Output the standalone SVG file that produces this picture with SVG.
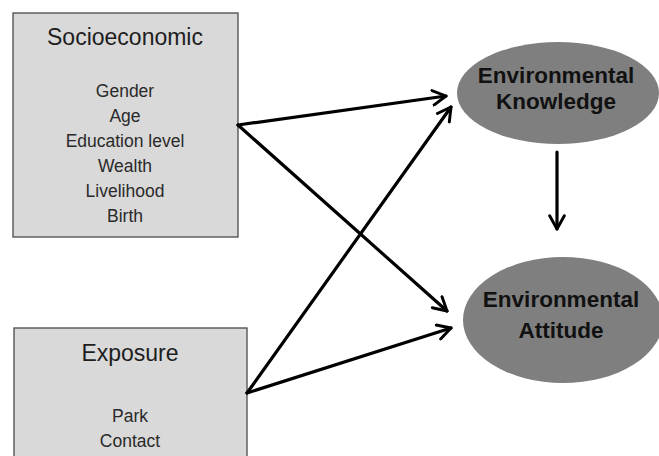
<svg xmlns="http://www.w3.org/2000/svg" width="659" height="456" viewBox="0 0 659 456">
<defs>
<style>
.box{fill:#d9d9d9;stroke:#4a4a4a;stroke-width:1.3}
.ell{fill:#7f7f7f;stroke:none}
.title{font-family:"Liberation Sans",Arial,sans-serif;font-size:23px;fill:#1e1e1e;text-anchor:middle}
.item{font-family:"Liberation Sans",Arial,sans-serif;font-size:17.5px;fill:#2a2a2a;text-anchor:middle}
.etxt{font-family:"Liberation Sans",Arial,sans-serif;font-size:22.5px;font-weight:bold;fill:#111;text-anchor:middle}
.conn{stroke:#000;stroke-width:3.2;fill:none;stroke-linecap:round}
</style>
<marker id="arr" viewBox="0 0 12 12" refX="10" refY="6" markerWidth="5.5" markerHeight="5.5" orient="auto" markerUnits="strokeWidth">
<path d="M1,1 L10,6 L1,11" fill="none" stroke="#000" stroke-width="2" stroke-linecap="round" stroke-linejoin="round"/>
</marker>
</defs>
<rect width="659" height="456" fill="#fff"/>
<g id="socioeconomic">
<rect class="box" x="13" y="13" width="225" height="224"/>
<text class="title" x="125" y="45">Socioeconomic</text>
<text class="item" x="125" y="97">Gender</text>
<text class="item" x="125" y="122">Age</text>
<text class="item" x="125" y="147">Education level</text>
<text class="item" x="125" y="172">Wealth</text>
<text class="item" x="125" y="197">Livelihood</text>
<text class="item" x="125" y="222">Birth</text>
</g>
<g id="exposure">
<rect class="box" x="14" y="328" width="233" height="140"/>
<text class="title" x="130" y="361">Exposure</text>
<text class="item" x="130" y="422">Park</text>
<text class="item" x="130" y="447">Contact</text>
</g>
<g id="knowledge">
<ellipse class="ell" cx="558" cy="93" rx="101" ry="51"/>
<text class="etxt" x="556" y="83">Environmental</text>
<text class="etxt" x="556" y="109">Knowledge</text>
</g>
<g id="attitude">
<ellipse class="ell" cx="563" cy="320" rx="100" ry="63"/>
<text class="etxt" x="561" y="307">Environmental</text>
<text class="etxt" x="561" y="338">Attitude</text>
</g>
<g id="connectors">
<line class="conn" x1="238" y1="125" x2="446" y2="96" marker-end="url(#arr)"/>
<line class="conn" x1="238" y1="125" x2="447" y2="311" marker-end="url(#arr)"/>
<line class="conn" x1="247" y1="393" x2="451" y2="107" marker-end="url(#arr)"/>
<line class="conn" x1="247" y1="393" x2="451" y2="328" marker-end="url(#arr)"/>
<line class="conn" x1="557" y1="152" x2="557" y2="229" marker-end="url(#arr)"/>
</g>
</svg>
